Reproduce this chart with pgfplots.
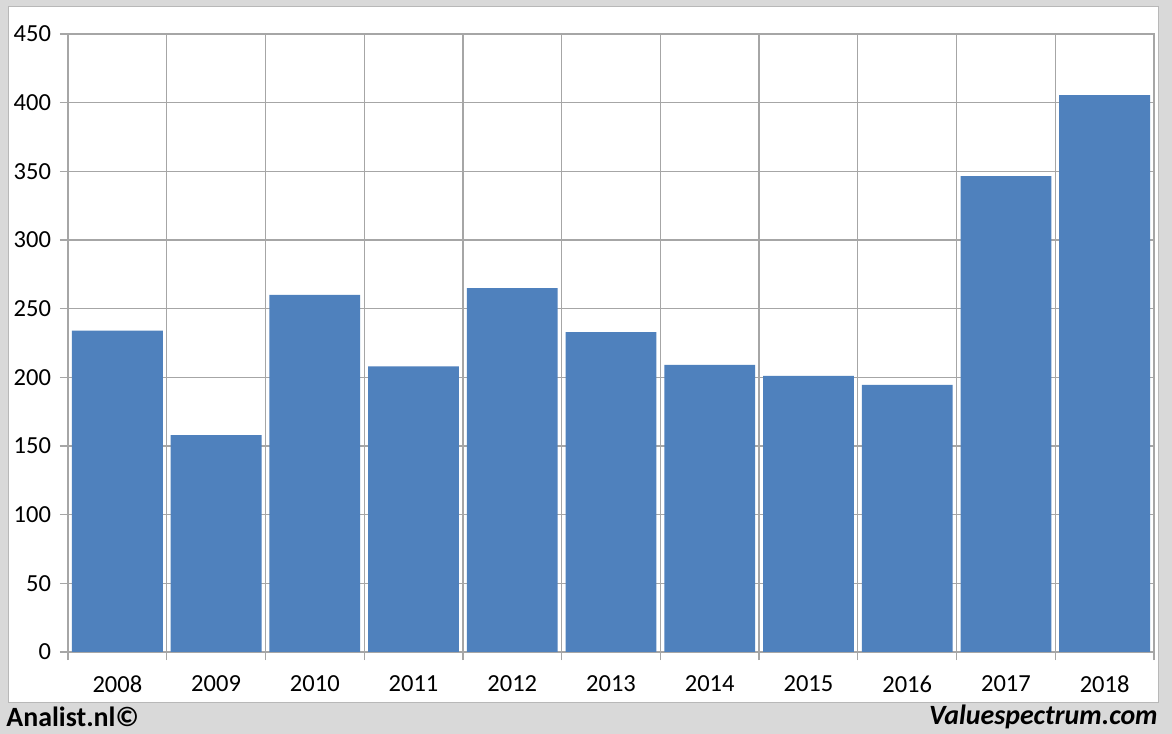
\documentclass[border=0pt]{standalone}
\usepackage{pgfplots}
\pgfplotsset{compat=1.18}
\usepackage{fontspec}
\setmainfont{Carlito}
\definecolor{bgray}{HTML}{D9D9D9}
\definecolor{gridc}{HTML}{A6A6A6}
\definecolor{barc}{HTML}{4F81BD}
\begin{document}
\begin{tikzpicture}
\fill[bgray] (0,0) rectangle (586bp,367bp);
\fill[white] (4bp,15.5bp) rectangle (579bp,363.5bp);
\draw[gridc!80, line width=0.5bp] (4bp,15.5bp) rectangle (579bp,363.5bp);
\begin{axis}[
  scale only axis,
  at={(34bp,41bp)}, anchor=south west,
  width=543bp, height=309bp,
  xmin=-0.5, xmax=10.5, ymin=0, ymax=450,
  ytick={0,50,...,450},
  xtick={0,...,10},
  xticklabels={2008,2009,2010,2011,2012,2013,2014,2015,2016,2017,2018},
  minor xtick={-0.5,0.5,...,10.5},
  xmajorgrids=false, xminorgrids=true, ymajorgrids=true,
  grid style={gridc, line width=0.6bp},
  minor grid style={gridc, line width=0.6bp},
  axis line style={gridc, line width=0.6bp},
  major x tick style={draw=none},
  minor x tick style={gridc, line width=0.6bp},
  y tick style={gridc, line width=0.6bp},
  tick align=outside,
  major tick length=4bp, minor tick length=4bp,
  xtick pos=bottom, ytick pos=left,
  ticklabel style={font=\fontsize{12.3}{14}\selectfont, text=black},
  /pgf/number format/assume math mode=true,
  yticklabel style={xshift=-1bp},
  xticklabel style={yshift=-4.5bp},
]
\addplot[ybar, bar width=0.92, fill=barc, draw=none] coordinates {
(0,234) (1,158) (2,260) (3,208) (4,265) (5,233) (6,209) (7,201) (8,194.5) (9,346.5) (10,405.5)
};
\end{axis}
\node[anchor=west, inner sep=0pt, font=\fontsize{14}{16}\selectfont\bfseries] at (3bp,8.5bp) {Analist.nl©};
\node[anchor=east, inner sep=0pt, font=\fontsize{14}{16}\selectfont\bfseries\itshape] at (579bp,8.5bp) {Valuespectrum.com};
\end{tikzpicture}
\end{document}
